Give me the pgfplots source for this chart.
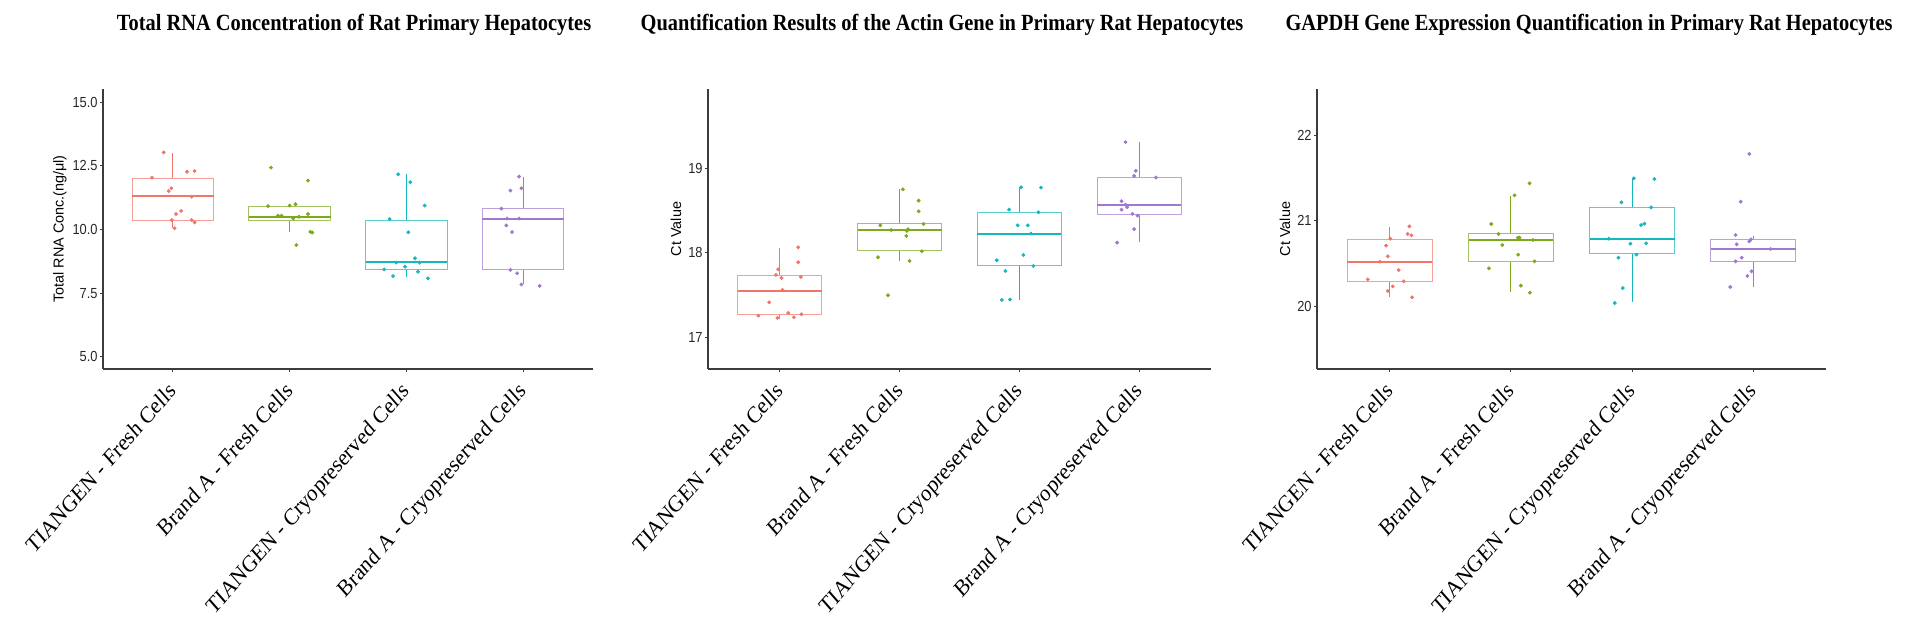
\documentclass[border=0pt]{standalone}
\usepackage{fontspec}
\setmainfont{Liberation Sans}
\newfontfamily\sqsans[FakeStretch=0.88]{Liberation Sans}
\newfontfamily\sqserif[FakeStretch=0.88]{Liberation Serif}
\newfontfamily\lserif{Liberation Serif}
\usepackage{pgfplots}
\pgfplotsset{compat=1.18}
\usepgfplotslibrary{statistics}

\definecolor{cA}{HTML}{F0766B}
\definecolor{cB}{HTML}{7CAA1E}
\definecolor{cC}{HTML}{14B8BE}
\definecolor{cD}{HTML}{A277CF}
\definecolor{axisgray}{HTML}{3C3C3C}

\pgfplotsset{
  panel/.style={
    scale only axis, height=140pt,
    xmin=0.4, xmax=4.6,
    axis lines*=left,
    axis line style={draw=axisgray, line width=0.65pt, -},
    tick align=outside, major tick length=1.5pt,
    tick style={draw=axisgray, line width=0.5pt},
    xtick={1,2,3,4},
    xticklabels={TIANGEN - Fresh Cells, Brand A - Fresh Cells, TIANGEN - Cryopreserved Cells, Brand A - Cryopreserved Cells},
    xticklabel style={font=\lserif\fontsize{11.7}{12}\selectfont, xshift=-3pt, yshift=-4.2pt, xscale=0.88, rotate=45, anchor=north east, inner sep=0pt},
    yticklabel style={font=\sqsans\fontsize{7.3}{8}\selectfont, inner sep=1pt, text=black!85},
    ylabel style={font=\fontsize{7.2}{8}\selectfont, anchor=center},
    /pgf/number format/assume math mode=true,
    title style={font=\sqserif\bfseries\fontsize{11.6}{13}\selectfont, at={(0.5,1)}, anchor=base, yshift=23pt},
    clip=false,
    boxplot/draw direction=y,
    boxplot/whisker extend=0,
    boxplot/box extend=0.7,
    mark size=0.75pt,
  },
  bA/.style={cA, line width=0.5pt, boxplot/every box/.style={draw=cA!70}, boxplot/every median/.style={draw=cA, line width=1.1pt}},
  bB/.style={cB, line width=0.5pt, boxplot/every box/.style={draw=cB!70}, boxplot/every median/.style={draw=cB, line width=1.1pt}},
  bC/.style={cC, line width=0.5pt, boxplot/every box/.style={draw=cC!70}, boxplot/every median/.style={draw=cC, line width=1.1pt}},
  bD/.style={cD, line width=0.5pt, boxplot/every box/.style={draw=cD!70}, boxplot/every median/.style={draw=cD, line width=1.1pt}},
}

\begin{document}
\begin{tikzpicture}
\path[use as bounding box] (0,0) rectangle (960pt,320.5pt);

% Panel 1: total RNA concentration
\begin{axis}[panel, at={(51.5pt,136pt)}, anchor=south west, width=245pt,
  ymin=4.517, ymax=15.523, ytick={5,7.5,10,12.5,15},
  yticklabel style={/pgf/number format/.cd, fixed, fixed zerofill, precision=1},
  ylabel={Total RNA Conc.(ng/μl)}, ylabel style={at={([xshift=-21.5pt]rel axis cs:0,0.5)}},
  title={Total RNA Concentration of Rat Primary Hepatocytes}, title style={xshift=3pt}]
\addplot[bA, boxplot prepared={lower whisker=10.05, lower quartile=10.37, median=11.32, upper quartile=12.01, upper whisker=13.0, draw position=1}] coordinates {};
\addplot[bB, boxplot prepared={lower whisker=9.91, lower quartile=10.37, median=10.50, upper quartile=10.90, upper whisker=10.99, draw position=2}] coordinates {};
\addplot[bC, boxplot prepared={lower whisker=8.12, lower quartile=8.41, median=8.71, upper quartile=10.37, upper whisker=12.18, draw position=3}] coordinates {};
\addplot[bD, boxplot prepared={lower whisker=7.84, lower quartile=8.41, median=10.40, upper quartile=10.82, upper whisker=12.08, draw position=4}] coordinates {};
\addplot[only marks, mark=*, cA] table {
x y
0.92 13.03
0.82 12.04
1.12 12.27
1.185 12.30
0.986 11.62
0.963 11.51
1.16 11.29
1.07 10.73
1.026 10.61
0.99 10.37
1.16 10.37
1.185 10.28
1.014 10.05
};
\addplot[only marks, mark=*, cB] table {
x y
1.84 12.43
2.157 11.92
1.815 10.92
2.0 10.94
2.05 10.99
2.157 10.61
1.9 10.54
1.93 10.54
2.08 10.50
2.03 10.43
2.177 9.91
2.194 9.88
2.057 9.39
};
\addplot[only marks, mark=*, cC] table {
x y
2.93 12.17
3.034 11.86
3.157 10.94
2.857 10.41
3.017 9.89
3.074 8.87
2.914 8.70
3.114 8.70
2.989 8.54
2.81 8.43
3.1 8.34
2.886 8.17
3.185 8.08
};
\addplot[only marks, mark=*, cD] table {
x y
3.966 12.08
3.892 11.53
3.986 11.62
3.815 10.82
3.863 10.43
3.966 10.43
3.857 10.16
3.906 9.90
3.892 8.41
3.95 8.28
3.986 7.84
4.143 7.78
};
\end{axis}

% Panel 2: actin Ct values
\begin{axis}[panel, at={(354pt,136pt)}, anchor=south west, width=251.5pt,
  ymin=16.625, ymax=19.938, ytick={17,18,19},
  ylabel={Ct Value}, ylabel style={at={([xshift=-16pt]rel axis cs:0,0.5)}},
  title={Quantification Results of the Actin Gene in Primary Rat Hepatocytes}, title style={xshift=-8.75pt}]
\addplot[bA, boxplot prepared={lower whisker=17.22, lower quartile=17.264, median=17.548, upper quartile=17.726, upper whisker=18.06, draw position=1}] coordinates {};
\addplot[bB, boxplot prepared={lower whisker=17.907, lower quartile=18.022, median=18.266, upper quartile=18.345, upper whisker=18.75, draw position=2}] coordinates {};
\addplot[bC, boxplot prepared={lower whisker=17.442, lower quartile=17.844, median=18.227, upper quartile=18.479, upper whisker=18.775, draw position=3}] coordinates {};
\addplot[bD, boxplot prepared={lower whisker=18.128, lower quartile=18.456, median=18.57, upper quartile=18.89, upper whisker=19.31, draw position=4}] coordinates {};
\addplot[only marks, mark=*, cA] table {
x y
1.153 18.065
1.153 17.888
0.986 17.805
0.967 17.738
1.014 17.702
1.175 17.714
1.022 17.56
0.911 17.414
0.82 17.256
0.98 17.229
1.07 17.288
1.117 17.237
1.18 17.272
};
\addplot[only marks, mark=*, cB] table {
x y
2.028 18.751
2.159 18.617
2.159 18.491
1.839 18.325
2.2 18.341
1.93 18.27
2.07 18.278
2.061 18.258
2.056 18.199
2.186 18.018
1.819 17.947
2.083 17.903
1.903 17.497
};
\addplot[only marks, mark=*, cC] table {
x y
3.014 18.775
3.18 18.771
2.914 18.511
3.159 18.479
2.986 18.325
3.07 18.325
3.097 18.227
3.033 17.974
2.811 17.911
3.117 17.844
2.883 17.785
2.853 17.442
2.922 17.446
};
\addplot[only marks, mark=*, cD] table {
x y
3.886 19.31
3.972 18.97
3.958 18.91
4.14 18.89
3.853 18.61
3.886 18.57
3.9 18.54
3.853 18.51
3.944 18.46
3.986 18.44
3.958 18.28
3.816 18.12
};
\end{axis}

% Panel 3: GAPDH Ct values
\begin{axis}[panel, at={(658.5pt,136pt)}, anchor=south west, width=254.5pt,
  ymin=19.274, ymax=22.536, ytick={20,21,22},
  ylabel={Ct Value}, ylabel style={at={([xshift=-16pt]rel axis cs:0,0.5)}},
  title={GAPDH Gene Expression Quantification in Primary Rat Hepatocytes}, title style={xshift=8.75pt}]
\addplot[bA, boxplot prepared={lower whisker=20.109, lower quartile=20.291, median=20.52, upper quartile=20.784, upper whisker=20.924, draw position=1}] coordinates {};
\addplot[bB, boxplot prepared={lower whisker=20.167, lower quartile=20.528, median=20.777, upper quartile=20.847, upper whisker=21.293, draw position=2}] coordinates {};
\addplot[bC, boxplot prepared={lower whisker=20.05, lower quartile=20.614, median=20.792, upper quartile=21.157, upper whisker=21.495, draw position=3}] coordinates {};
\addplot[bD, boxplot prepared={lower whisker=20.233, lower quartile=20.528, median=20.668, upper quartile=20.777, upper whisker=20.827, draw position=4}] coordinates {};
\addplot[only marks, mark=*, cA] table {
x y
1.162 20.936
1.148 20.847
1.179 20.831
1.005 20.792
0.97 20.711
0.984 20.587
0.918 20.524
1.074 20.427
0.819 20.318
1.115 20.295
1.025 20.237
0.984 20.183
1.184 20.109
};
\addplot[only marks, mark=*, cB] table {
x y
2.154 21.437
2.03 21.297
1.838 20.963
1.898 20.847
2.058 20.804
2.071 20.804
2.181 20.777
1.929 20.718
2.06 20.606
2.195 20.528
1.819 20.447
2.082 20.245
2.157 20.163
};
\addplot[only marks, mark=*, cC] table {
x y
3.014 21.495
3.184 21.487
2.912 21.216
3.157 21.157
3.102 20.967
3.074 20.951
2.808 20.792
2.986 20.734
3.116 20.738
3.036 20.606
2.887 20.571
2.923 20.217
2.857 20.043
};
\addplot[only marks, mark=*, cD] table {
x y
3.967 21.779
3.896 21.223
3.854 20.835
3.863 20.726
3.981 20.784
3.967 20.761
4.143 20.672
3.904 20.571
3.854 20.528
3.986 20.412
3.951 20.357
3.81 20.229
};
\end{axis}
\end{tikzpicture}
\end{document}
